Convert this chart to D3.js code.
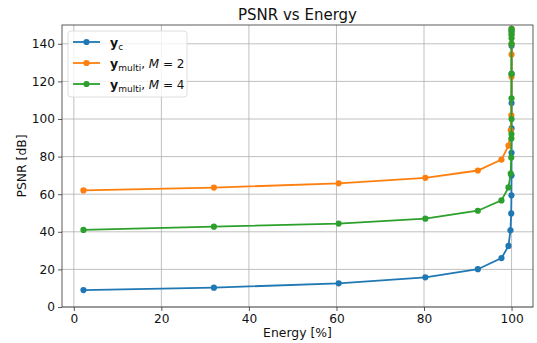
<!DOCTYPE html>
<html>
<head>
<meta charset="utf-8">
<script src="https://cdn.jsdelivr.net/npm/d3@7"></script>
<style>
  html, body { margin: 0; padding: 0; background: #fff; }
  svg { display: block; font-family: "DejaVu Sans", sans-serif; }
</style>
</head>
<body>
<div id="chart"></div>
<script>
// PSNR vs Energy — three series, all points pile up near 100 % energy
const xTicks = [0, 20, 40, 60, 80, 100];
const yTicks = [0, 20, 40, 60, 80, 100, 120, 140];

const energyC = [2.2, 32, 60.5, 80.3, 92.3, 97.7, 99.3, 99.75, 99.92, 99.97, 99.99, 99.995, 99.998, 99.999, 100, 100, 100];
const psnrC   = [9.0, 10.3, 12.6, 15.8, 20.1, 26.0, 32.5, 40.8, 49.8, 59.4, 70.0, 82.0, 95.0, 108.5, 124.0, 139.0, 147.0];

const energyM2 = [2.2, 32, 60.5, 80.3, 92.3, 97.7, 99.3, 99.8, 99.95, 99.99, 99.998, 100, 100, 100];
const psnrM2   = [62.0, 63.5, 65.8, 68.7, 72.6, 78.4, 85.8, 94.0, 102.0, 122.5, 134.3, 140.0, 145.0, 148.0];

const energyM4 = [2.2, 32, 60.5, 80.3, 92.3, 97.7, 99.3, 99.8, 99.93, 99.97, 99.98, 99.99, 99.995, 99.998, 100, 100, 100, 100, 100];
const psnrM4   = [41.0, 42.7, 44.4, 47.0, 51.2, 56.7, 63.6, 71.0, 79.5, 89.6, 92.0, 100.0, 111.0, 124.0, 140.0, 143.0, 145.0, 146.5, 148.0];

const series = [
  { name: "c",     M: null, color: "#1f77b4", x: energyC,  y: psnrC },
  { name: "multi", M: 2,    color: "#ff7f0e", x: energyM2, y: psnrM2 },
  { name: "multi", M: 4,    color: "#2ca02c", x: energyM4, y: psnrM4 },
];

const W = 537, H = 343;
const m = { t: 25, r: 4, b: 36, l: 62 };
const iw = W - m.l - m.r, ih = H - m.t - m.b;
const ink = "#111";

const svg = d3.select("#chart").append("svg").attr("width", W).attr("height", H);
const g = svg.append("g").attr("transform", `translate(${m.l},${m.t})`);

const x = d3.scaleLinear().domain([-2.7, 104.9]).range([0, iw]);
const y = d3.scaleLinear().domain([0, 150]).range([ih, 0]);

// grid
g.append("g").selectAll("line").data(xTicks).join("line")
  .attr("x1", d => x(d)).attr("x2", d => x(d)).attr("y1", 0).attr("y2", ih)
  .attr("stroke", "#b0b0b0").attr("stroke-width", 0.8);
g.append("g").selectAll("line").data(yTicks).join("line")
  .attr("y1", d => y(d)).attr("y2", d => y(d)).attr("x1", 0).attr("x2", iw)
  .attr("stroke", "#b0b0b0").attr("stroke-width", 0.8);

// series
svg.append("clipPath").attr("id", "clip").append("rect")
  .attr("x", 0).attr("y", 0).attr("width", iw).attr("height", ih);
const plot = g.append("g").attr("clip-path", "url(#clip)");
const line = d3.line().x(d => x(d[0])).y(d => y(d[1]));
series.forEach(s => {
  const pts = s.x.map((v, i) => [v, s.y[i]]);
  plot.append("path").datum(pts).attr("d", line)
    .attr("fill", "none").attr("stroke", s.color).attr("stroke-width", 1.8);
  plot.append("g").selectAll("circle").data(pts).join("circle")
    .attr("cx", d => x(d[0])).attr("cy", d => y(d[1])).attr("r", 3.1)
    .attr("fill", s.color);
});

// axes
const ax = g.append("g").attr("transform", `translate(0,${ih})`)
  .call(d3.axisBottom(x).tickValues(xTicks).tickSize(4).tickPadding(3));
const ay = g.append("g").call(d3.axisLeft(y).tickValues(yTicks).tickSize(4).tickPadding(3));
[ax, ay].forEach(a => {
  a.select(".domain").remove();
  a.selectAll("line").attr("stroke", "#333").attr("stroke-width", 0.8);
  a.selectAll("text").attr("font-size", 12.2).attr("fill", ink).attr("font-family", "DejaVu Sans");
});

// frame
g.append("rect").attr("width", iw).attr("height", ih)
  .attr("fill", "none").attr("stroke", "#333").attr("stroke-width", 0.8);

// titles
svg.append("text").attr("x", m.l + iw / 2).attr("y", 20).attr("text-anchor", "middle")
  .attr("font-size", 15).attr("fill", ink).text("PSNR vs Energy");
svg.append("text").attr("x", m.l + iw / 2).attr("y", 337).attr("text-anchor", "middle")
  .attr("font-size", 12.4).attr("fill", ink).text("Energy [%]");
svg.append("text").attr("transform", `translate(26,${m.t + ih / 2}) rotate(-90)`)
  .attr("text-anchor", "middle").attr("font-size", 12.4).attr("fill", ink).text("PSNR [dB]");

// legend
const lg = svg.append("g").attr("transform", "translate(68,31)");
lg.append("rect").attr("width", 119).attr("height", 66).attr("rx", 3)
  .attr("fill", "#fff").attr("fill-opacity", 0.8).attr("stroke", "#d5d5d5").attr("stroke-width", 0.8);
series.forEach((s, i) => {
  const row = lg.append("g").attr("transform", `translate(0,${11 + i * 21})`);
  row.append("line").attr("x1", 5).attr("x2", 32).attr("stroke", s.color).attr("stroke-width", 1.8);
  row.append("circle").attr("cx", 18.5).attr("r", 3.1).attr("fill", s.color);
  const t = row.append("text").attr("x", 42).attr("y", 5).attr("font-size", 12).attr("fill", ink);
  t.append("tspan").attr("font-weight", "bold").attr("font-size", 12.5).text("y");
  t.append("tspan").attr("dy", 2.5).attr("font-size", 9).text(s.name);
  if (s.M != null) {
    t.append("tspan").attr("dy", -2.5).text(", ");
    t.append("tspan").attr("font-style", "italic").text("M");
    t.append("tspan").text(` = ${s.M}`);
  }
});
</script>
</body>
</html>
